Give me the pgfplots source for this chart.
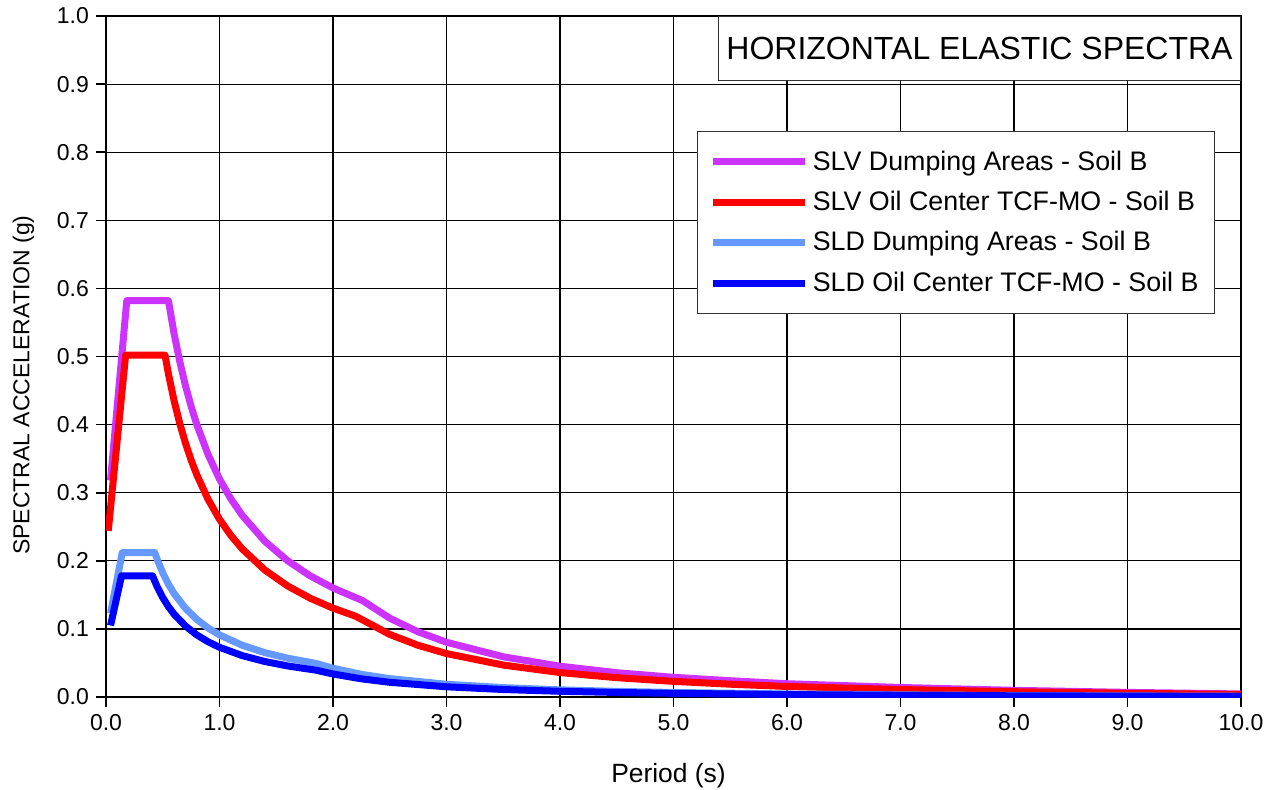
\documentclass[border=0pt]{standalone}
\usepackage{fontspec}
\setmainfont{Liberation Sans}
\usepackage{pgfplots}
\pgfplotsset{compat=1.18}
\definecolor{cpurple}{RGB}{204,51,255}
\definecolor{cred}{RGB}{255,0,0}
\definecolor{clblue}{RGB}{102,153,255}
\definecolor{cdblue}{RGB}{0,0,255}
\begin{document}
\begin{tikzpicture}
\useasboundingbox (-53pt,-46pt) rectangle (583pt,348.5pt);
\begin{axis}[
  at={(0,0)}, anchor=south west,
  scale only axis,
  width=567.5pt, height=340.5pt,
  xmin=0, xmax=10, ymin=0, ymax=1,
  xtick={0,1,...,10}, ytick={0,0.1,...,1.0},
  xticklabel style={/pgf/number format/.cd,fixed,fixed zerofill,precision=1},
  yticklabel style={/pgf/number format/.cd,fixed,fixed zerofill,precision=1},
  /pgf/number format/assume math mode=true,
  tick label style={font=\fontsize{11.5}{13}\selectfont, text=black},
  tick align=outside, tick pos=left, major tick length=5pt,
  tick style={black, line width=0.8pt},
  grid=major, grid style={black, line width=0.6pt},
  axis line style={black, line width=0.8pt},
  xlabel={Period (s)}, ylabel={SPECTRAL ACCELERATION (g)},
  xlabel style={font=\fontsize{13.2}{15}\selectfont, yshift=-9.5pt, xshift=-2.5pt},
  ylabel style={font=\fontsize{11.5}{14}\selectfont, at={(ticklabel cs:0.458)}, yshift=4.5pt},
  legend style={at={(axis cs:9.771,0.831)}, anchor=north east,
    draw=black!80, line width=0.5pt, fill=white,
    font=\fontsize{13.4}{15}\selectfont,
    inner xsep=6pt, inner ysep=7.5pt,
    row sep=5pt,
    legend cell align=left},
  legend image code/.code={\draw[#1, line width=3.5pt, line cap=round] (1pt,0pt) -- (40pt,0pt);
    \path (-1pt,0pt) -- (45pt,0pt);},
  every axis plot/.append style={line width=3.5pt, line join=round},
]
\addplot[cpurple] coordinates {
(0.04,0.318) (0.183,0.582) (0.55,0.582) (0.6,0.5335) (0.65,0.4925) (0.7,0.4573) (0.75,0.4268)
(0.8,0.4001) (0.9,0.3557) (1.0,0.3201) (1.1,0.2910) (1.2,0.2668) (1.4,0.2286) (1.6,0.2001)
(1.8,0.1778) (2.0,0.1601) (2.26,0.1416) (2.5,0.1157) (2.75,0.0957) (3.0,0.0804) (3.5,0.0591)
(4.0,0.0452) (4.5,0.0357) (5.0,0.0289) (5.5,0.0239) (6.0,0.0195) (7.0,0.0140) (8.0,0.0098)
(9.0,0.0068) (10.0,0.0045)};
\addlegendentry{SLV Dumping Areas - Soil B}
\addplot[cred] coordinates {
(0.02,0.244) (0.173,0.502) (0.52,0.502) (0.55,0.4745) (0.6,0.4350) (0.65,0.4016) (0.7,0.3729)
(0.75,0.3480) (0.8,0.3263) (0.9,0.2900) (1.0,0.2610) (1.1,0.2373) (1.2,0.2175) (1.4,0.1864)
(1.6,0.1631) (1.8,0.1450) (2.0,0.1305) (2.2,0.1186) (2.5,0.0919) (2.75,0.0759) (3.0,0.0638)
(3.5,0.0469) (4.0,0.0359) (4.5,0.0284) (5.0,0.0230) (5.5,0.0188) (6.0,0.0155) (7.0,0.0110)
(8.0,0.0078) (9.0,0.0055) (10.0,0.0037)};
\addlegendentry{SLV Oil Center TCF-MO - Soil B}
\addplot[clblue] coordinates {
(0.04,0.123) (0.143,0.212) (0.43,0.212) (0.45,0.2026) (0.5,0.1823) (0.55,0.1657) (0.6,0.1519)
(0.7,0.1302) (0.8,0.1140) (0.9,0.1013) (1.0,0.0912) (1.2,0.0760) (1.4,0.0651) (1.6,0.0570)
(1.85,0.0493) (2.0,0.0422) (2.25,0.0333) (2.5,0.0270) (3.0,0.0187) (3.5,0.0138) (4.0,0.0105)
(4.5,0.0083) (5.0,0.0067) (6.0,0.0045) (7.0,0.0031) (8.0,0.0022) (9.0,0.0016) (10.0,0.0011)};
\addlegendentry{SLD Dumping Areas - Soil B}
\addplot[cdblue] coordinates {
(0.04,0.105) (0.137,0.178) (0.41,0.178) (0.45,0.1622) (0.5,0.1460) (0.55,0.1327) (0.6,0.1216)
(0.7,0.1043) (0.8,0.0912) (0.9,0.0811) (1.0,0.0730) (1.2,0.0608) (1.4,0.0521) (1.6,0.0456)
(1.85,0.0394) (2.0,0.0338) (2.25,0.0267) (2.5,0.0216) (3.0,0.0150) (3.5,0.0110) (4.0,0.0084)
(4.5,0.0067) (5.0,0.0054) (6.0,0.0036) (7.0,0.0025) (8.0,0.0018) (9.0,0.0013) (10.0,0.0009)};
\addlegendentry{SLD Oil Center TCF-MO - Soil B}
\node[draw=black!80, line width=0.5pt, fill=white, anchor=north east,
  minimum width=261pt, minimum height=32pt, inner sep=0pt,
  font=\fontsize{16}{18}\selectfont]
  at (rel axis cs:1,1) {HORIZONTAL ELASTIC SPECTRA};
\end{axis}
\end{tikzpicture}
\end{document}
